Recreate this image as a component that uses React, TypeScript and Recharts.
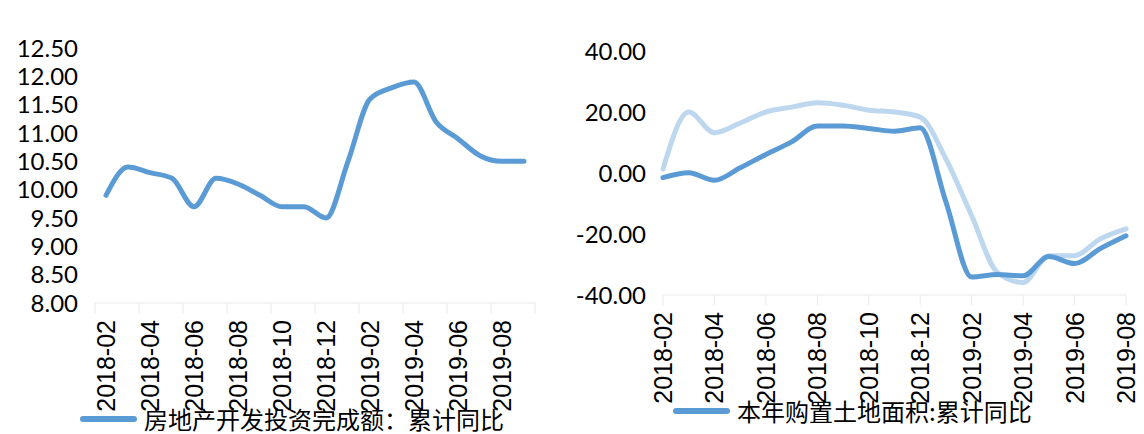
import { LineChart, Line, XAxis, YAxis } from 'recharts';

// 房地产开发投资完成额：累计同比 (%)
const investMonths = [
  '2018-02', '2018-03', '2018-04', '2018-05', '2018-06', '2018-07', '2018-08', '2018-09', '2018-10', '2018-11',
  '2018-12', '2019-01', '2019-02', '2019-03', '2019-04', '2019-05', '2019-06', '2019-07', '2019-08', '2019-09',
];
const investYoY = [9.9, 10.4, 10.3, 10.2, 9.7, 10.2, 10.1, 9.9, 9.7, 9.7, 9.5, 10.5, 11.6, 11.8, 11.9, 11.2, 10.9, 10.6, 10.5, 10.5];
const investTicks = [8, 8.5, 9, 9.5, 10, 10.5, 11, 11.5, 12, 12.5];

// 本年购置土地面积:累计同比 (%) and the companion light series
const landMonths = [
  '2018-02', '2018-03', '2018-04', '2018-05', '2018-06', '2018-07', '2018-08', '2018-09', '2018-10', '2018-11',
  '2018-12', '2019-01', '2019-02', '2019-03', '2019-04', '2019-05', '2019-06', '2019-07', '2019-08',
];
const landAreaYoY = [-1.5, 0.1, -2.4, 1.7, 6.1, 10.2, 15.4, 15.4, 14.6, 13.7, 14.8, -9.5, -34.1, -33.3, -33.7, -27.4, -29.7, -24.8, -20.6];
const secondYoY = [1.3, 20.0, 13.2, 16.4, 20.0, 21.6, 23.0, 22.2, 20.6, 20.0, 18.3, 4.6, -14.0, -32.6, -35.9, -27.1, -27.1, -21.6, -18.3];
const landTicks = [-40, -20, 0, 20, 40];

const investData = investMonths.map((m, i) => ({ month: m, value: investYoY[i] }));
const landData = landMonths.map((m, i) => ({ month: m, area: landAreaYoY[i], second: secondYoY[i] }));

const DARK = '#5b9bd5';
const LIGHT = '#bdd7ee';
const GRID = '#e9e9e9';
const NUM_FONT = 'Lato, sans-serif';
const DATE_FONT = '"Liberation Sans", Arial, sans-serif';
const CJK_FONT = '"Noto Sans CJK SC", sans-serif';

const YTick = ({ x, y, payload }: any) => (
  <text x={x - 17} y={y} dy="0.36em" textAnchor="end" fontFamily={NUM_FONT} fontSize={24} fill="#000">
    {Number(payload.value).toFixed(2)}
  </text>
);

// date label rotated upward, with a short tick line; `shift` moves the tick to the category edge
const makeDateTick = (shift: number, lastLabel?: string, lastExtra?: number) => ({ x, y, payload }: any) => (
  <g>
    <line x1={x + shift} x2={x + shift} y1={y} y2={y + 10} stroke={GRID} strokeWidth={1} />
    {lastLabel && payload.value === lastLabel && lastExtra !== undefined && (
      <line x1={x + lastExtra} x2={x + lastExtra} y1={y} y2={y + 10} stroke={GRID} strokeWidth={1} />
    )}
    <text
      x={x}
      y={y + 17}
      transform={`rotate(-90, ${x}, ${y + 17})`}
      textAnchor="end"
      dominantBaseline="central"
      fontFamily={DATE_FONT}
      fontSize={25}
      fill="#000"
    >
      {payload.value}
    </text>
  </g>
);

const Legend = ({ left, top, label }: { left: number; top: number; label: string }) => (
  <div style={{ position: 'absolute', left, top, display: 'flex', alignItems: 'center', whiteSpace: 'nowrap' }}>
    <div style={{ width: 57, height: 6, borderRadius: 3, background: DARK, marginRight: 7 }} />
    <span style={{ fontFamily: CJK_FONT, fontSize: 24, lineHeight: '30px', color: '#000' }}>{label}</span>
  </div>
);

export default function App() {
  return (
    <div style={{ position: 'absolute', left: 0, top: 0, width: 1144, height: 434, background: '#fff', overflow: 'hidden' }}>
      <div style={{ position: 'absolute', left: 0, top: 0 }}>
        <LineChart width={560} height={434} data={investData} margin={{ top: 48, right: 25, bottom: 0, left: 0 }}>
          <XAxis
            dataKey="month"
            interval={1}
            height={131}
            padding={{ left: 11, right: 11 }}
            axisLine={{ stroke: GRID }}
            tickLine={false}
            tickSize={0}
            tickMargin={0}
            tick={makeDateTick(-11, '2019-08', 33)}
          />
          <YAxis
            width={95}
            domain={[8, 12.5]}
            ticks={investTicks}
            axisLine={false}
            tickLine={false}
            tickSize={0}
            tickMargin={0}
            tick={<YTick />}
          />
          <Line
            type="monotone"
            dataKey="value"
            stroke={DARK}
            strokeWidth={5}
            dot={false}
            strokeLinecap="round"
            strokeLinejoin="round"
            isAnimationActive={false}
          />
        </LineChart>
      </div>

      <div style={{ position: 'absolute', left: 560, top: 0 }}>
        <LineChart width={584} height={434} data={landData} margin={{ top: 51, right: 18, bottom: 0, left: 0 }}>
          <XAxis
            dataKey="month"
            interval={1}
            height={139}
            axisLine={{ stroke: GRID }}
            tickLine={false}
            tickSize={0}
            tickMargin={0}
            tick={makeDateTick(0)}
          />
          <YAxis
            width={103}
            domain={[-40, 40]}
            ticks={landTicks}
            axisLine={false}
            tickLine={false}
            tickSize={0}
            tickMargin={0}
            tick={<YTick />}
          />
          <Line
            type="monotone"
            dataKey="second"
            stroke={LIGHT}
            strokeWidth={5}
            dot={false}
            strokeLinecap="round"
            strokeLinejoin="round"
            isAnimationActive={false}
          />
          <Line
            type="monotone"
            dataKey="area"
            stroke={DARK}
            strokeWidth={5}
            dot={false}
            strokeLinecap="round"
            strokeLinejoin="round"
            isAnimationActive={false}
          />
        </LineChart>
      </div>

      <Legend left={80} top={404} label="房地产开发投资完成额：累计同比" />
      <Legend left={673} top={396} label="本年购置土地面积:累计同比" />
    </div>
  );
}
